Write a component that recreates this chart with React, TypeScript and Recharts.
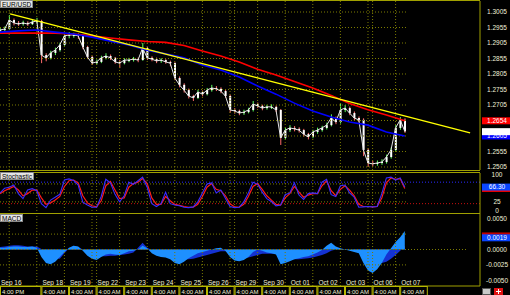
import React from "react";
import { ComposedChart, Bar, Line, Area, XAxis, YAxis, ReferenceLine } from "recharts";

// 4-hour bins starting Sep 16 4:00 PM, weekends removed
const FIRST_OPEN = 1.2945;
const CLOSE = [
  1.2947, 1.2950, 1.2979, 1.2970, 1.2966, 1.2970, 1.2966, 1.2973, 1.2976, 1.2866,
  1.2857, 1.2873, 1.2882, 1.2899, 1.2928, 1.2931, 1.2931, 1.2928, 1.2892, 1.2860,
  1.2840, 1.2844, 1.2857, 1.2863, 1.2857, 1.2844, 1.2840, 1.2850, 1.2850, 1.2853,
  1.2850, 1.2889, 1.2857, 1.2853, 1.2847, 1.2850, 1.2844, 1.2840, 1.2792, 1.2770,
  1.2753, 1.2734, 1.2728, 1.2747, 1.2740, 1.2753, 1.2760, 1.2757, 1.2750, 1.2734,
  1.2689, 1.2686, 1.2679, 1.2682, 1.2689, 1.2708, 1.2702, 1.2695, 1.2699, 1.2699,
  1.2689, 1.2599, 1.2624, 1.2631, 1.2628, 1.2624, 1.2611, 1.2602, 1.2618, 1.2624,
  1.2631, 1.2640, 1.2663, 1.2650, 1.2689, 1.2695, 1.2679, 1.2663, 1.2657, 1.2560,
  1.2518, 1.2515, 1.2518, 1.2521, 1.2537, 1.2560, 1.2631, 1.2657, 1.2620,
];
const HIGH = [
  1.2955, 1.2958, 1.2995, 1.2984, 1.2976, 1.2977, 1.2975, 1.2981, 1.2986, 1.2980,
  1.2872, 1.2880, 1.2890, 1.2906, 1.2937, 1.2940, 1.2938, 1.2936, 1.2930, 1.2896,
  1.2864, 1.2852, 1.2864, 1.2872, 1.2868, 1.2860, 1.2850, 1.2856, 1.2857, 1.2860,
  1.2858, 1.2905, 1.2892, 1.2862, 1.2858, 1.2856, 1.2853, 1.2848, 1.2843, 1.2797,
  1.2775, 1.2758, 1.2738, 1.2754, 1.2752, 1.2760, 1.2770, 1.2766, 1.2762, 1.2755,
  1.2738, 1.2695, 1.2690, 1.2690, 1.2696, 1.2718, 1.2713, 1.2706, 1.2706, 1.2707,
  1.2703, 1.2692, 1.2632, 1.2640, 1.2637, 1.2633, 1.2628, 1.2615, 1.2625, 1.2632,
  1.2638, 1.2648, 1.2675, 1.2668, 1.2711, 1.2705, 1.2700, 1.2684, 1.2668, 1.2662,
  1.2565, 1.2525, 1.2526, 1.2530, 1.2545, 1.2568, 1.2640, 1.2666, 1.2662,
];
const LOW = [
  1.2940, 1.2942, 1.2948, 1.2962, 1.2960, 1.2961, 1.2960, 1.2963, 1.2968, 1.2840,
  1.2846, 1.2852, 1.2866, 1.2877, 1.2896, 1.2920, 1.2922, 1.2918, 1.2885, 1.2853,
  1.2834, 1.2835, 1.2840, 1.2852, 1.2850, 1.2838, 1.2824, 1.2836, 1.2843, 1.2845,
  1.2843, 1.2848, 1.2850, 1.2846, 1.2840, 1.2841, 1.2838, 1.2830, 1.2785, 1.2762,
  1.2745, 1.2726, 1.2718, 1.2724, 1.2733, 1.2736, 1.2748, 1.2750, 1.2743, 1.2728,
  1.2680, 1.2677, 1.2672, 1.2673, 1.2678, 1.2684, 1.2695, 1.2688, 1.2690, 1.2692,
  1.2682, 1.2576, 1.2594, 1.2618, 1.2620, 1.2616, 1.2603, 1.2594, 1.2598, 1.2612,
  1.2619, 1.2626, 1.2636, 1.2643, 1.2645, 1.2682, 1.2672, 1.2655, 1.2650, 1.2540,
  1.2505, 1.2507, 1.2509, 1.2512, 1.2516, 1.2532, 1.2555, 1.2625, 1.2615,
];

// moving averages, one value every 4 bins
const MA_STEP = 4;
const MA_RED = [
  1.2937, 1.2937, 1.2937, 1.2937, 1.2934, 1.2928, 1.2921, 1.2915, 1.2910, 1.2907, 1.2897, 1.2879,
  1.2863, 1.2844, 1.2820, 1.2802, 1.2781, 1.2760, 1.2736, 1.2710, 1.2690, 1.2673, 1.2654,
];
const MA_BLUE = [
  1.2940, 1.2944, 1.2947, 1.2940, 1.2934, 1.2924, 1.2911, 1.2899, 1.2882, 1.2870, 1.2857, 1.2834,
  1.2818, 1.2795, 1.2766, 1.2740, 1.2711, 1.2686, 1.2666, 1.2650, 1.2640, 1.2618, 1.2605,
];
const TREND = [
  { x: 2.2, y: 1.2999 },
  { x: 102.2, y: 1.2615 },
];

const STOCH_K = [
  50, 63, 66, 72, 48, 34, 58, 62, 56, 20,
  9, 30, 38, 46, 86, 89, 85, 72, 24, 16,
  10, 10, 40, 88, 78, 46, 25, 42, 80, 74,
  84, 94, 66, 20, 12, 20, 52, 20, 16, 14,
  10, 9, 11, 25, 50, 75, 78, 50, 58, 35,
  12, 9, 10, 25, 50, 80, 74, 52, 34, 26,
  14, 16, 45, 50, 78, 44, 32, 48, 50, 48,
  80, 88, 45, 40, 70, 72, 50, 38, 10, 11,
  12, 11, 12, 48, 92, 94, 86, 92, 66.3,
];
const STOCH_D = [
  48, 56, 62, 68, 58, 42, 48, 58, 58, 36,
  18, 22, 30, 40, 68, 84, 86, 78, 42, 22,
  14, 11, 28, 70, 82, 58, 34, 36, 66, 76,
  80, 90, 76, 36, 18, 18, 40, 28, 18, 15,
  12, 10, 10, 18, 40, 66, 76, 60, 56, 42,
  20, 11, 10, 18, 40, 68, 76, 60, 42, 30,
  18, 16, 36, 48, 68, 52, 38, 44, 48, 48,
  70, 84, 56, 42, 60, 70, 58, 42, 18, 12,
  12, 11, 12, 36, 78, 92, 88, 90, 62.6,
];

const MACD = [
  0.0003, 0.0003, 0.0004, 0.0005, 0.0005, 0.0004, 0.0004, 0.0005, 0.0003, -0.0012,
  -0.0022, -0.0024, -0.0020, -0.0012, -0.0004, 0.0003, 0.0006, 0.0005, -0.0002, -0.0010,
  -0.0015, -0.0017, -0.0012, -0.0008, -0.0007, -0.0008, -0.0009, -0.0006, -0.0003, -0.0002,
  0.0000, 0.0006, 0.0002, -0.0006, -0.0010, -0.0012, -0.0013, -0.0016, -0.0022, -0.0024,
  -0.0020, -0.0014, -0.0010, -0.0006, -0.0004, -0.0002, 0.0000, 0.0002, 0.0003, -0.0002,
  -0.0012, -0.0018, -0.0019, -0.0017, -0.0012, -0.0004, 0.0000, -0.0002, -0.0005, -0.0006,
  -0.0008, -0.0024, -0.0022, -0.0019, -0.0016, -0.0014, -0.0012, -0.0011, -0.0008, -0.0005,
  -0.0001, 0.0006, 0.0011, 0.0005, 0.0002, 0.0000, -0.0002, -0.0004, -0.0006, -0.0022,
  -0.0034, -0.0038, -0.0032, -0.0022, -0.0008, 0.0002, 0.0012, 0.0020, 0.0030,
];
const SIGNAL = [
  0.0004, 0.0005, 0.0006, 0.0007, 0.0007, 0.0006, 0.0005, 0.0005, 0.0005, 0.0001,
  -0.0005, -0.0010, -0.0014, -0.0015, -0.0006, 0.0002, 0.0006, 0.0004, 0.0000, -0.0004,
  -0.0007, -0.0010, -0.0011, -0.0011, -0.0010, -0.0010, -0.0009, -0.0008, -0.0007, -0.0005,
  0.0003, 0.0011, 0.0003, -0.0001, -0.0003, -0.0005, -0.0007, -0.0009, -0.0012, -0.0015,
  -0.0016, -0.0016, -0.0015, -0.0013, -0.0011, -0.0009, -0.0007, -0.0005, -0.0003, -0.0003,
  -0.0005, -0.0008, -0.0011, -0.0013, -0.0013, -0.0011, -0.0009, -0.0007, -0.0007, -0.0007,
  -0.0007, -0.0011, -0.0014, -0.0016, -0.0016, -0.0016, -0.0015, -0.0014, -0.0013, -0.0011,
  -0.0009, -0.0006, -0.0002, 0.0000, 0.0001, 0.0001, 0.0000, -0.0001, -0.0002, -0.0006,
  -0.0012, -0.0018, -0.0022, -0.0022, -0.0020, -0.0015, -0.0009, -0.0002, 0.0006,
];

const PRICE_TICKS = [1.2505, 1.2555, 1.2605, 1.2655, 1.2705, 1.2755, 1.2805, 1.2855, 1.2905, 1.2955, 1.3005];
const STOCH_TICKS = [0, 25, 50, 100];
const STOCH_GRID = [25, 50, 75];
const MACD_TICKS = [-0.005, -0.0025, 0, 0.0025, 0.005];
const MACD_GRID = [-0.0025, 0.0025];
const GRID_X = [2, 8, 14, 20, 21, 26, 32, 38, 44, 50, 51, 56, 62, 68, 74, 80, 81, 86];
const GRID_END = 88.7;
const ZERO_END = 101.5;

const LABEL_X = [0, 9, 15, 21, 27, 33, 39, 45, 51, 57, 63, 69, 75, 81, 87];
const DATE_LABELS = ["Sep 16", "Sep 18", "Sep 19", "Sep 22", "Sep 23", "Sep 24", "Sep 25", "Sep 26", "Sep 29", "Sep 30", "Oct 01", "Oct 02", "Oct 03", "Oct 06", "Oct 07"];
const TIME_LABELS = ["4:00 PM", "4:00 AM", "4:00 AM", "4:00 AM", "4:00 AM", "4:00 AM", "4:00 AM", "4:00 AM", "4:00 AM", "4:00 AM", "4:00 AM", "4:00 AM", "4:00 AM", "4:00 AM", "4:00 AM"];

const X_MAX = 104.35;
const PX_PER_BIN = 480 / X_MAX;
const OLIVE = "#a0a000";
const GRID = "#7c7c00";
const TXT = "#f0f0d8";
const FONT = "'Liberation Sans', Arial, sans-serif";

const priceRows = CLOSE.map((c, i) => ({
  i,
  open: i === 0 ? FIRST_OPEN : CLOSE[i - 1],
  close: c,
  high: HIGH[i],
  low: LOW[i],
  range: [LOW[i], HIGH[i]],
  red: i % MA_STEP === 0 ? MA_RED[i / MA_STEP] : null,
  blue: i % MA_STEP === 0 ? MA_BLUE[i / MA_STEP] : null,
}));
const stochRows = STOCH_K.map((k, i) => ({ i, k, d: STOCH_D[i] }));
const macdRows = MACD.map((m, i) => ({ i, macd: m, signal: SIGNAL[i] }));

const Candle = (props: any) => {
  const { x, y, width, height, payload } = props;
  const top = Math.min(y, y + height);
  const h = Math.abs(height);
  const k = h / Math.max(payload.high - payload.low, 1e-9);
  const cx = x + width / 2;
  const bTop = top + (payload.high - Math.max(payload.open, payload.close)) * k;
  const bBot = top + (payload.high - Math.min(payload.open, payload.close)) * k;
  const up = payload.close >= payload.open;
  return (
    <g>
      <line x1={cx} x2={cx} y1={top} y2={top + h} stroke={up ? "#5cff5c" : "#ff6a6a"} strokeWidth={1} />
      <rect x={cx - 1} y={bTop} width={2} height={Math.max(bBot - bTop, 1)} fill="#ffffff" />
    </g>
  );
};

const axisTick = (hidden: number[], digits: number) => (props: any) => {
  const { x, y, payload } = props;
  if (hidden.includes(payload.value)) return <g />;
  return (
    <text x={x} y={y + 2.3} textAnchor="middle" fill={TXT} fontSize={6.5} fontFamily={FONT}>
      {payload.value.toFixed(digits)}
    </text>
  );
};

// value box on the right edge; text is left out when the box sits under another one
const Readout = (props: any) => {
  const { viewBox, bg, fg, text } = props;
  const left = viewBox.x + viewBox.width + 2;
  return (
    <g>
      <rect x={left} y={viewBox.y - 3.5} width={28} height={7} fill={bg} />
      {text ? (
        <text x={left + 15} y={viewBox.y + 2.4} textAnchor="middle" fill={fg} fontSize={6.5} fontFamily={FONT}>
          {text}
        </text>
      ) : null}
    </g>
  );
};

const TimeTick = (props: any) => {
  const { x, y, payload } = props;
  const n = LABEL_X.indexOf(payload.value);
  if (n < 0) return <g />;
  const next = n < LABEL_X.length - 1 ? LABEL_X[n + 1] : payload.value + 6;
  const w = (next - payload.value) * PX_PER_BIN;
  return (
    <g>
      <text x={x + 1} y={y - 1.5} fill={TXT} fontSize={6.5} fontFamily={FONT}>
        {DATE_LABELS[n]}
      </text>
      <rect x={x + 0.5} y={y + 0.5} width={w - 1} height={10} fill="none" stroke="#b8b800" />
      <text x={x + 2} y={y + 7.5} fill={TXT} fontSize={6} fontFamily={FONT}>
        {TIME_LABELS[n]}
      </text>
    </g>
  );
};

const vGrid = GRID_X.map((v) => (
  <ReferenceLine key={"gx" + v} x={v} stroke={GRID} strokeDasharray="1 2" />
));
const hGrid = (vals: number[], end: number) =>
  vals.map((v) => (
    <ReferenceLine key={"gy" + v} segment={[{ x: 0, y: v }, { x: end, y: v }]} stroke={GRID} strokeDasharray="1 2" />
  ));

const hLine = (top: number, width = 480) => (
  <div style={{ position: "absolute", left: 0, top, width, height: 1, background: OLIVE }} />
);

const tag = (text: string, top: number) => (
  <div
    style={{
      position: "absolute", left: 0, top, height: 8, padding: "0 1px", background: "#e4e4e4",
      color: "#000", fontSize: 6.5, lineHeight: "8px", fontFamily: FONT, border: "1px solid #8a8a8a",
      boxSizing: "border-box",
    }}
  >
    {text}
  </div>
);

export default function App() {
  return (
    <div style={{ position: "fixed", left: 0, top: 0, width: 510, height: 295, background: "#000", overflow: "hidden" }}>
      <div style={{ position: "absolute", left: 0, top: 0 }}>
        <ComposedChart width={510} height={170} data={priceRows} margin={{ top: 1, right: 0, bottom: 0, left: 0 }}>
          <XAxis dataKey="i" type="number" domain={[0, X_MAX]} allowDataOverflow hide />
          <YAxis
            orientation="right" width={30} domain={[1.24953, 1.30405]} allowDataOverflow ticks={PRICE_TICKS}
            axisLine={{ stroke: OLIVE }} tickLine={false} tickSize={0} tickMargin={17}
            tick={axisTick([1.2655, 1.2605], 4)} interval={0}
          />
          {vGrid}
          {hGrid(PRICE_TICKS, GRID_END)}
          <Line dataKey="close" stroke="#e6e6e6" strokeWidth={1} dot={false} activeDot={false} isAnimationActive={false} />
          <Bar dataKey="range" barSize={3} shape={<Candle />} isAnimationActive={false} />
          <Line dataKey="red" stroke="#ff0000" strokeWidth={1.6} dot={false} activeDot={false} connectNulls isAnimationActive={false} />
          <Line dataKey="blue" stroke="#0000ff" strokeWidth={1.6} dot={false} activeDot={false} connectNulls isAnimationActive={false} />
          <ReferenceLine segment={[TREND[0], TREND[1]]} stroke="#ffff00" strokeWidth={1.5} />
          <ReferenceLine y={1.2654} stroke="none" label={<Readout bg="#ff0000" fg="#ffffff" text="1.2654" />} />
          <ReferenceLine y={1.2605} stroke="none" label={<Readout bg="#0000ff" fg="#ffffff" text="1.2605" />} />
          <ReferenceLine y={1.2619} stroke="none" label={<Readout bg="#ffffff" fg="#ffffff" text="" />} />
        </ComposedChart>
      </div>

      <div style={{ position: "absolute", left: 0, top: 172 }}>
        <ComposedChart width={510} height={42} data={stochRows} margin={{ top: 1, right: 0, bottom: 0, left: 0 }}>
          <XAxis dataKey="i" type="number" domain={[0, X_MAX]} allowDataOverflow hide />
          <YAxis
            orientation="right" width={30} domain={[-8.9, 105.6]} allowDataOverflow ticks={STOCH_TICKS}
            axisLine={{ stroke: OLIVE }} tickLine={false} tickSize={0} tickMargin={17}
            tick={axisTick([50], 0)} interval={0}
          />
          {vGrid}
          {hGrid(STOCH_GRID, GRID_END)}
          <ReferenceLine y={80} stroke="#2a2aff" strokeDasharray="1 2" />
          <ReferenceLine y={20} stroke="#c81010" strokeDasharray="1 2" />
          <Line dataKey="d" stroke="#ff1a1a" strokeWidth={1.2} dot={false} activeDot={false} isAnimationActive={false} />
          <Line dataKey="k" stroke="#3a2cff" strokeWidth={1.1} dot={false} activeDot={false} isAnimationActive={false} />
          <ReferenceLine y={62.6} stroke="none" label={<Readout bg="#ff0000" fg="#ffffff" text="" />} />
          <ReferenceLine y={66.3} stroke="none" label={<Readout bg="#0a46ff" fg="#ffffff" text="66.30" />} />
        </ComposedChart>
      </div>

      <div style={{ position: "absolute", left: 0, top: 213 }}>
        <ComposedChart width={510} height={82} data={macdRows} margin={{ top: 1, right: 0, bottom: 0, left: 0 }}>
          <XAxis
            dataKey="i" type="number" domain={[0, X_MAX]} allowDataOverflow height={9} ticks={LABEL_X} interval={0}
            axisLine={{ stroke: OLIVE }} tickLine={false} tickSize={0} tickMargin={0} tick={<TimeTick />}
          />
          <YAxis
            orientation="right" width={30} domain={[-0.005925, 0.005763]} allowDataOverflow ticks={MACD_TICKS}
            axisLine={{ stroke: OLIVE }} tickLine={false} tickSize={0} tickMargin={17}
            tick={axisTick([0.0025], 4)} interval={0}
          />
          {vGrid}
          {hGrid(MACD_GRID, GRID_END)}
          <ReferenceLine segment={[{ x: 0, y: 0 }, { x: ZERO_END, y: 0 }]} stroke={GRID} strokeDasharray="1 2" />
          <Area dataKey="signal" type="linear" baseValue={0} stroke="none" fill="#1432d2" fillOpacity={1} dot={false} activeDot={false} isAnimationActive={false} />
          <Area dataKey="macd" type="linear" baseValue={0} stroke="none" fill="#1e90ff" fillOpacity={1} dot={false} activeDot={false} isAnimationActive={false} />
          <ReferenceLine y={0.0022} stroke="none" label={<Readout bg="#c00000" fg="#ffffff" text="" />} />
          <ReferenceLine y={0.0019} stroke="none" label={<Readout bg="#0a46ff" fg="#ffffff" text="0.0019" />} />
        </ComposedChart>
      </div>

      {hLine(0)}
      {hLine(170)}
      {hLine(172)}
      {hLine(213)}
      {tag("EUR/USD", 0)}
      {tag("Stochastic", 172)}
      {tag("MACD", 214)}
      <div style={{ position: "absolute", left: 482, top: 288, width: 9, height: 7, background: "#c8c8c8", border: "1px solid #555", boxSizing: "border-box" }} />
      <div style={{ position: "absolute", left: 494, top: 288, width: 9, height: 7, background: "#e01010" }}>
        <div style={{ position: "absolute", left: 2, top: 3, width: 5, height: 1, background: "#fff" }} />
        <div style={{ position: "absolute", left: 4, top: 1, width: 1, height: 5, background: "#fff" }} />
      </div>
    </div>
  );
}
